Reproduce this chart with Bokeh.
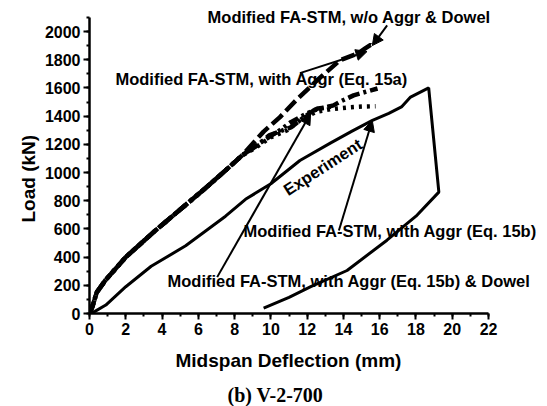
import math
from bokeh.plotting import figure
from bokeh.models import Label, Arrow, NormalHead, Range1d, FixedTicker, Title
from bokeh.embed import file_html
from bokeh.resources import INLINE

# ---------------- data ----------------
exp_x = [0, 0.3, 0.9, 2.0, 3.4, 5.3, 6.4, 7.5, 8.6, 10.0, 11.6, 13.3, 14.5, 15.6, 16.5, 17.2, 17.7, 18.7,
         19.26, 18.0, 16.4, 14.2, 12.2, 11.0, 9.6]
exp_y = [0, 15, 60, 190, 335, 480, 585, 690, 810, 920, 1085, 1210, 1295, 1370, 1420, 1465, 1535, 1600,
         861, 690, 520, 305, 190, 115, 38]

wo_x = [0, 0.15, 0.4, 0.9, 2.0, 3.6, 5.3, 6.4, 7.5, 8.4, 9.6, 10.5, 11.45, 12.6, 13.8, 14.8, 15.2, 15.5, 15.7]
wo_y = [0, 45, 150, 240, 400, 585, 770, 890, 1015, 1120, 1290, 1393, 1520, 1660, 1795, 1845, 1880, 1905, 1890]

a15a_x = [0, 0.15, 0.4, 0.9, 2.0, 3.6, 5.3, 6.4, 7.5, 8.4, 9.25, 9.9, 11.1, 11.8, 12.35, 13.45, 13.84, 14.56, 15.3, 15.88]
a15a_y = [0, 45, 150, 240, 400, 585, 770, 890, 1015, 1120, 1192, 1263, 1320, 1390, 1440, 1476, 1504, 1547, 1575, 1596]

a15b_x = [0, 0.15, 0.4, 0.9, 2.0, 3.6, 5.3, 6.4, 7.5, 8.4, 9.2, 10.0, 10.9, 11.7, 12.5, 13.3, 14.3, 15.1, 15.77]
a15b_y = [0, 45, 150, 240, 400, 585, 770, 890, 1015, 1120, 1180, 1250, 1300, 1380, 1430, 1450, 1462, 1468, 1470]

a15bd_x = [0, 0.15, 0.4, 0.9, 2.0, 3.6, 5.3, 6.4, 7.5, 8.4, 9.6, 10.5, 11.1, 12.0, 12.6, 13.5]
a15bd_y = [0, 45, 150, 240, 400, 585, 770, 890, 1015, 1120, 1227, 1300, 1357, 1420, 1455, 1470]

x_ticks = [0, 2, 4, 6, 8, 10, 12, 14, 16, 18, 20, 22]
y_ticks = [0, 200, 400, 600, 800, 1000, 1200, 1400, 1600, 1800, 2000]
x_minor = list(range(0, 23))
y_minor = list(range(0, 2101, 100))

FONT = "Liberation Sans"

p = figure(width=547, height=406, output_backend="svg", toolbar_location=None,
           x_range=Range1d(0, 25.14), y_range=Range1d(0, 2220),
           min_border_left=89, min_border_right=2, min_border_top=0, min_border_bottom=93)
p.outline_line_color = None
p.xgrid.visible = False
p.ygrid.visible = False
p.background_fill_color = "white"
p.border_fill_color = "white"

for ax, ticks, minor, bnd in ((p.xaxis[0], x_ticks, x_minor, (0, 22)),
                              (p.yaxis[0], y_ticks, y_minor, (0, 2100))):
    ax.ticker = FixedTicker(ticks=ticks, minor_ticks=minor)
    ax.bounds = bnd
    ax.axis_line_width = 2.5
    ax.major_tick_line_width = 2
    ax.minor_tick_line_width = 2
    ax.major_tick_out = 6
    ax.major_tick_in = 0
    ax.minor_tick_out = 3
    ax.minor_tick_in = 0
    ax.major_label_text_font = FONT
    ax.major_label_text_font_style = "bold"
    ax.major_label_text_font_size = "16px"
    ax.major_label_text_color = "black"
    ax.axis_line_color = "black"
    ax.major_tick_line_color = "black"
    ax.minor_tick_line_color = "black"
    ax.major_label_standoff = 3

# axis titles and caption as side titles
p.add_layout(Title(text="Load (kN)", align="left", offset=91, text_font=FONT, text_font_style="bold",
                   text_font_size="19px", text_color="black", standoff=6), "left")
p.add_layout(Title(text="Midspan Deflection (mm)", align="left", offset=86, text_font=FONT,
                   text_font_style="bold", text_font_size="19px", text_color="black", standoff=21), "below")
p.add_layout(Title(text="(b) V-2-700", align="left", offset=138, text_font="Liberation Serif",
                   text_font_style="bold", text_font_size="20px", text_color="black", standoff=0), "below")

# curves
p.line(exp_x, exp_y, line_color="black", line_width=3)
p.line(wo_x, wo_y, line_color="black", line_width=4.5, line_dash="14 5")
p.line(a15a_x, a15a_y, line_color="black", line_width=4.5, line_dash="12 4 3 4")
p.line(a15b_x, a15b_y, line_color="black", line_width=4.5, line_dash="3 5")
p.line(a15bd_x, a15bd_y, line_color="black", line_width=4.5, line_dash="10 4 3 4 3 4")

# arrows
arrows = [((16.41, 2043), (15.59, 1900)),
          ((11.6, 1705), (15.3, 1858)),
          ((13.75, 589), (15.59, 1369)),
          ((7.04, 258), (12.19, 1419))]
for (x0, y0), (x1, y1) in arrows:
    p.add_layout(Arrow(x_start=x0, y_start=y0, x_end=x1, y_end=y1, line_width=2, line_color="black",
                       end=NormalHead(size=11, fill_color="black", line_color="black", line_width=1)))

def lab(x, y, text, size="16.5px", align="left", angle=0.0, font=FONT):
    p.add_layout(Label(x=x, y=y, text=text, text_font=font, text_font_style="bold",
                       text_font_size=size, text_align=align, text_baseline="middle",
                       angle=angle, text_color="black"))

lab(6.51, 2100, "Modified FA-STM, w/o Aggr & Dowel")
lab(1.43, 1660, "Modified FA-STM, with Aggr (Eq. 15a)")
lab(8.49, 582, "Modified FA-STM, with Aggr (Eq. 15b)")
lab(4.30, 227, "Modified FA-STM, with Aggr (Eq. 15b) & Dowel")
lab(12.85, 1040, "Experiment", align="center", angle=math.radians(33))

open("out.html", "w").write(file_html(p, INLINE))
